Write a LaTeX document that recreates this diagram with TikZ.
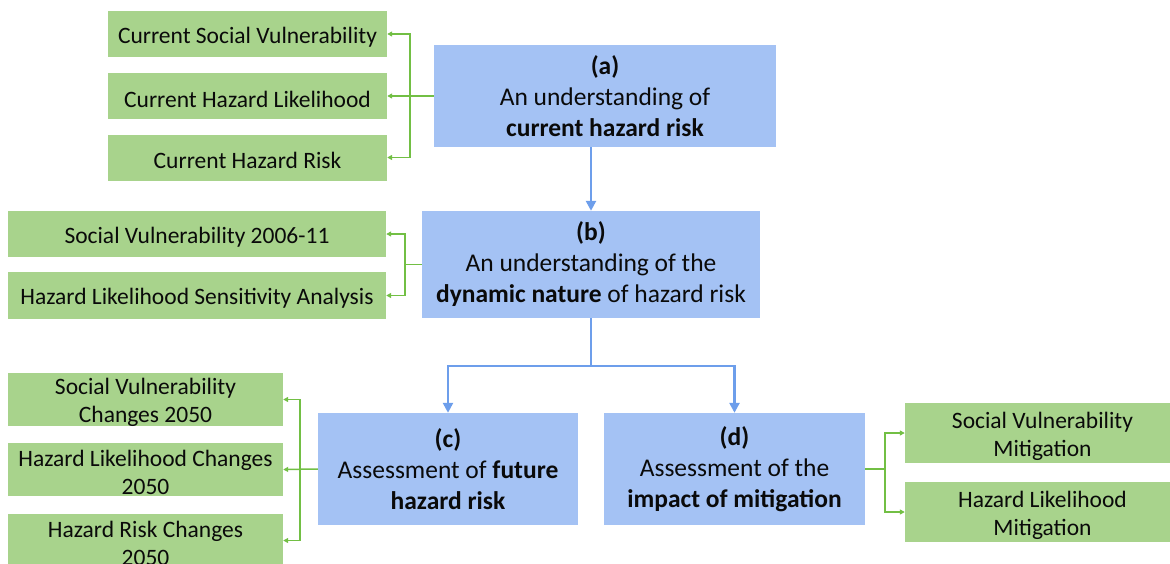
\documentclass[tikz,border=0pt]{standalone}
\usepackage{fontspec}
\setmainfont{Carlito}
\usetikzlibrary{arrows.meta}
\definecolor{boxblue}{HTML}{A4C2F4}
\definecolor{boxgreen}{HTML}{A8D38C}
\definecolor{lineblue}{HTML}{6D9EEB}
\definecolor{linegreen}{HTML}{72BF44}
\definecolor{ink}{HTML}{0A0A0A}
\tikzset{
  bluebox/.style={fill=boxblue, draw=none, align=center, inner sep=0pt,
    text=ink, font=\fontsize{25.5}{31}\selectfont},
  greentext/.style={align=center, inner sep=0pt, text=ink, yshift=-3pt,
    font=\fontsize{23.5}{28}\selectfont},
  greenbox/.style={fill=boxgreen, draw=none, inner sep=0pt,
    label={[greentext]center:{#1}}},
  bluelink/.style={draw=lineblue, line width=2.4pt,
    -{Triangle[length=10pt,width=10pt]}},
  blueline/.style={draw=lineblue, line width=2.4pt},
  greenlink/.style={draw=linegreen, line width=1.5pt,
    -{Triangle[length=5pt,width=5pt]}},
  greenline/.style={draw=linegreen, line width=1.5pt},
}
\begin{document}
\begin{tikzpicture}[x=1pt,y=-1pt]
\useasboundingbox (0,0) rectangle (1170,563);
\clip (0,0) rectangle (1170,563);

% main stages
\node[bluebox, minimum width=342, minimum height=102] (A) at (605,96)
  {\textbf{(a)}\\An understanding of\\\textbf{current hazard risk}};
\node[bluebox, minimum width=338, minimum height=107] (B) at (591,264.5)
  {\textbf{(b)}\\An understanding of the\\\textbf{dynamic nature} of hazard risk};
\node[bluebox, minimum width=260, minimum height=112] (C) at (448,469)
  {\textbf{(c)}\\Assessment of \textbf{future}\\\textbf{hazard risk}};
\node[bluebox, minimum width=261, minimum height=112] (D) at (734.5,469)
  {\textbf{(d)}\\Assessment of the\\\textbf{impact of mitigation}};

% outputs of (a)
\node[greenbox={Current Social Vulnerability},
  minimum width=279, minimum height=46] (G1) at (247.5,34) {};
\node[greenbox={Current Hazard Likelihood},
  minimum width=279, minimum height=46] (G2) at (247.5,96) {};
\node[greenbox={Current Hazard Risk},
  minimum width=279, minimum height=46] (G3) at (247.5,157.5) {};

% outputs of (b)
\node[greenbox={Social Vulnerability 2006-11},
  minimum width=378, minimum height=46] (G4) at (197,234) {};
\node[greenbox={Hazard Likelihood Sensitivity Analysis},
  minimum width=378, minimum height=47] (G5) at (197,295.5) {};

% outputs of (c)
\node[greenbox={Social Vulnerability\\Changes 2050},
  minimum width=275, minimum height=53] (G6) at (145.5,399.5) {};
\node[greenbox={Hazard Likelihood Changes\\2050},
  minimum width=275, minimum height=53] (G7) at (145.5,469.5) {};
\node[greenbox={Hazard Risk Changes\\2050},
  minimum width=275, minimum height=53] (G8) at (145.5,540.5) {};

% outputs of (d)
\node[greenbox={Social Vulnerability\\Mitigation},
  minimum width=275, minimum height=60] (G9) at (1042.5,433) {};
\node[greenbox={Hazard Likelihood\\Mitigation},
  minimum width=275, minimum height=60] (G10) at (1042.5,512) {};

% stage flow
\draw[bluelink] (A.south -| B.north) -- (B.north);
\coordinate (split) at (591,366);
\draw[blueline] (B.south) -- (split);
\draw[bluelink] (split) -| (C.north);
\draw[bluelink] (split) -| (D.north);

% brackets to outputs
\coordinate (ka) at (410,96);
\draw[greenlink] (A.west) -- (G2.east);
\draw[greenlink] (ka) |- (G1.east);
\draw[greenlink] (ka) |- (G3.east);

\coordinate (kb) at (405,264.5);
\draw[greenline] (B.west) -- (kb);
\draw[greenlink] (kb) |- (G4.east);
\draw[greenlink] (kb) |- (G5.east);

\coordinate (kc) at (300,469);
\draw[greenlink] (C.west) -- (G7.east);
\draw[greenlink] (kc) |- (G6.east);
\draw[greenlink] (kc) |- (G8.east);

\coordinate (kd) at (885,469);
\draw[greenline] (D.east) -- (kd);
\draw[greenlink] (kd) |- (G9.west);
\draw[greenlink] (kd) |- (G10.west);
\end{tikzpicture}
\end{document}
